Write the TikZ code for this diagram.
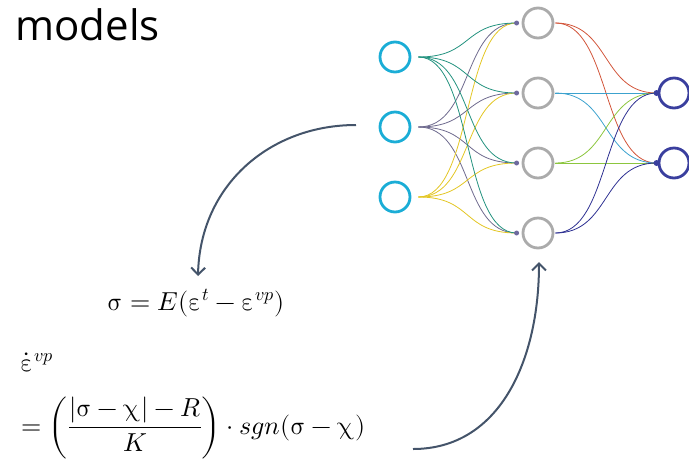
\documentclass[tikz,border=0pt]{standalone}
\usepackage{fontspec}
\usepackage{unicode-math}
\setmathfont{Latin Modern Math}
\newfontfamily\headfont{Open Sans}
\usetikzlibrary{arrows.meta}

\definecolor{incol}{HTML}{1BADD6}
\definecolor{hidcol}{HTML}{ABABAB}
\definecolor{outcol}{HTML}{3A3F9E}
\definecolor{tealw}{HTML}{23927F}
\definecolor{purplew}{HTML}{6E6A8E}
\definecolor{yelloww}{HTML}{E3C624}
\definecolor{redw}{HTML}{D2553A}
\definecolor{bluew}{HTML}{3CA2CE}
\definecolor{greenw}{HTML}{8CC63E}
\definecolor{navyw}{HTML}{2E3192}
\definecolor{dotcol}{HTML}{6E6A9E}
\definecolor{arrcol}{HTML}{44546A}

\begin{document}
\begin{tikzpicture}[x=1pt,y=-1pt,
  inn/.style={circle,draw=incol,line width=2.8pt,minimum size=30pt,inner sep=0pt},
  hidn/.style={circle,draw=hidcol,line width=2.8pt,minimum size=30pt,inner sep=0pt},
  outn/.style={circle,draw=outcol,line width=2.8pt,minimum size=30pt,inner sep=0pt},
  wire/.style={line width=0.8pt},
  bendarrow/.style={draw=arrcol,line width=2pt,-{Straight Barb[length=7pt,width=14pt]}},
  eq/.style={font=\fontsize{26}{30}\selectfont}]
\useasboundingbox (0,0) rectangle (689,459);

\node[anchor=base west,font=\headfont\fontsize{42}{48}\selectfont] (title) at (12,40) {models};

% input layer
\node[inn] (in1) at (395,57) {};
\node[inn] (in2) at (395,127) {};
\node[inn] (in3) at (395,197) {};

% hidden layer
\node[hidn] (hid1) at (538,23) {};
\node[hidn] (hid2) at (538,93) {};
\node[hidn] (hid3) at (538,163) {};
\node[hidn] (hid4) at (538,233) {};

% output layer
\node[outn] (out1) at (674,93) {};
\node[outn] (out2) at (674,163) {};

% input -> hidden
\draw[wire,purplew] ([xshift=7pt]in2.east) .. controls +(55,0) and +(-55,0) .. ([xshift=-5pt]hid1.west);
\draw[wire,purplew] ([xshift=7pt]in2.east) .. controls +(55,0) and +(-55,0) .. ([xshift=-5pt]hid2.west);
\draw[wire,purplew] ([xshift=7pt]in2.east) .. controls +(55,0) and +(-55,0) .. ([xshift=-5pt]hid3.west);
\draw[wire,purplew] ([xshift=7pt]in2.east) .. controls +(55,0) and +(-55,0) .. ([xshift=-5pt]hid4.west);
\draw[wire,yelloww] ([xshift=7pt]in3.east) .. controls +(55,0) and +(-55,0) .. ([xshift=-5pt]hid1.west);
\draw[wire,yelloww] ([xshift=7pt]in3.east) .. controls +(55,0) and +(-55,0) .. ([xshift=-5pt]hid2.west);
\draw[wire,yelloww] ([xshift=7pt]in3.east) .. controls +(55,0) and +(-55,0) .. ([xshift=-5pt]hid3.west);
\draw[wire,yelloww] ([xshift=7pt]in3.east) .. controls +(55,0) and +(-55,0) .. ([xshift=-5pt]hid4.west);
\draw[wire,tealw] ([xshift=7pt]in1.east) .. controls +(55,0) and +(-55,0) .. ([xshift=-5pt]hid1.west);
\draw[wire,tealw] ([xshift=7pt]in1.east) .. controls +(55,0) and +(-55,0) .. ([xshift=-5pt]hid2.west);
\draw[wire,tealw] ([xshift=7pt]in1.east) .. controls +(55,0) and +(-55,0) .. ([xshift=-5pt]hid3.west);
\draw[wire,tealw] ([xshift=7pt]in1.east) .. controls +(55,0) and +(-55,0) .. ([xshift=-5pt]hid4.west);

% hidden -> output
\draw[wire,redw] ([xshift=1pt]hid1.east) .. controls +(55,0) and +(-55,0) .. ([xshift=-1pt]out1.west);
\draw[wire,redw] ([xshift=1pt]hid1.east) .. controls +(55,0) and +(-55,0) .. ([xshift=-1pt]out2.west);
\draw[wire,bluew] ([xshift=1pt]hid2.east) -- ([xshift=-1pt]out1.west);
\draw[wire,bluew] ([xshift=1pt]hid2.east) .. controls +(55,0) and +(-55,0) .. ([xshift=-1pt]out2.west);
\draw[wire,greenw] ([xshift=1pt]hid3.east) .. controls +(55,0) and +(-55,0) .. ([xshift=-1pt]out1.west);
\draw[wire,greenw] ([xshift=1pt]hid3.east) -- ([xshift=-1pt]out2.west);
\draw[wire,navyw] ([xshift=1pt]hid4.east) .. controls +(55,0) and +(-55,0) .. ([xshift=-1pt]out1.west);
\draw[wire,navyw] ([xshift=1pt]hid4.east) .. controls +(55,0) and +(-55,0) .. ([xshift=-1pt]out2.west);

% dots
\fill[dotcol] ([xshift=-5pt]hid1.west) circle (2.5pt);
\fill[dotcol] ([xshift=-5pt]hid2.west) circle (2.5pt);
\fill[dotcol] ([xshift=-5pt]hid3.west) circle (2.5pt);
\fill[dotcol] ([xshift=-5pt]hid4.west) circle (2.5pt);
\fill[outcol] ([xshift=-1pt]out1.west) circle (3pt);
\fill[outcol] ([xshift=-1pt]out2.west) circle (3pt);

% equations
\node[eq] (eqa) at (196,303) {$\symup{\sigma}=E(\symup{\varepsilon}^{t}-\symup{\varepsilon}^{vp})$};
\node[eq,anchor=base west] (eqb) at (17,371) {$\dot{\symup{\varepsilon}}^{vp}$};
\node[eq,anchor=base west] (eqc) at (18,434) {$=\left(\dfrac{|\symup{\sigma}-\symup{\chi}|-R}{K}\right)\cdot sgn(\symup{\sigma}-\symup{\chi})$};

% arrows
\coordinate (a1s) at (356,125);
\coordinate (a1e) at (198,276);
\coordinate (a2s) at (413,449);
\coordinate (a2e) at (539,262);
\draw[bendarrow] (a1s) .. controls (270,125) and (200,185) .. (a1e);
\draw[bendarrow] (a2s) .. controls (500,449) and (539,360) .. (a2e);
\end{tikzpicture}
\end{document}
